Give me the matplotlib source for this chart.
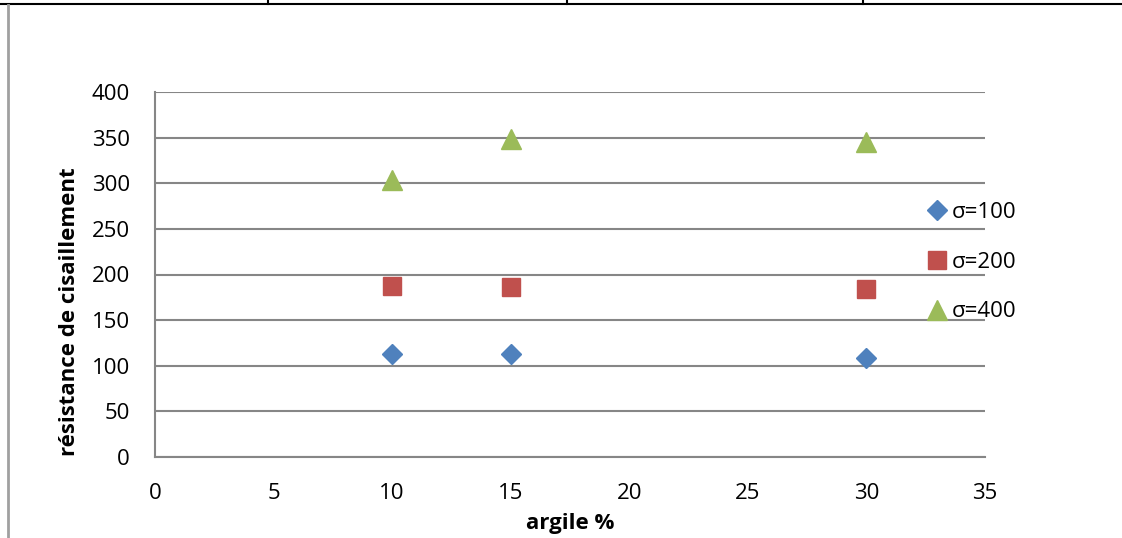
import numpy as np
import matplotlib
matplotlib.use("Agg")
import matplotlib.pyplot as plt
from matplotlib.lines import Line2D

plt.rcParams['font.family'] = ['Open Sans', 'DejaVu Sans']

# data
argile = [10, 15, 30]
sig100 = [113, 113, 108]
sig200 = [187, 186, 184]
sig400 = [304, 348, 345]
labels = ['σ=100', 'σ=200', 'σ=400']
xticks = [0, 5, 10, 15, 20, 25, 30, 35]
yticks = [0, 50, 100, 150, 200, 250, 300, 350, 400]

W, H = 1122, 538
fig = plt.figure(figsize=(W / 100, H / 100), dpi=100)
ax = fig.add_axes([155 / W, 1 - 457 / H, (985 - 155) / W, (457 - 92) / H])

grey = '#868686'
ax.plot(argile, sig100, 'D', color='#4F81BD', ms=10.5, mec='#4F81BD', label=labels[0])
ax.plot(argile, sig200, 's', color='#C0504D', ms=12.5, mec='#C0504D', label=labels[1])
ax.plot(argile, sig400, '^', color='#9BBB59', ms=14.5, mec='#9BBB59', label=labels[2])

ax.set_xlim(0, 35)
ax.set_ylim(0, 400)
ax.set_xticks(xticks)
ax.set_yticks(yticks)
ax.tick_params(length=0, labelsize=16, pad=0)
ax.tick_params(axis='x', pad=19)
ax.tick_params(axis='y', pad=18)
ax.yaxis.grid(True, color=grey, lw=1.5)
ax.set_axisbelow(True)
for s in ['top', 'right']:
    ax.spines[s].set_visible(False)
for s in ['left', 'bottom']:
    ax.spines[s].set_color(grey)
    ax.spines[s].set_linewidth(1.5)

fig.text(570 / W, 1 - 523 / H, 'argile %', fontsize=16, fontweight='bold',
         ha='center', va='center')
fig.text(70 / W, 1 - 312 / H, 'résistance de cisaillement', fontsize=16,
         fontweight='bold', rotation=90, ha='center', va='center')

ax.legend(loc='center left', bbox_to_anchor=(915 / W, 1 - 262 / H),
          bbox_transform=fig.transFigure, frameon=False, fontsize=16,
          handlelength=1.0, handletextpad=0.15, labelspacing=1.3,
          borderpad=0, numpoints=1)

# table frame lines around the chart
fig.add_artist(Line2D([0, 1], [1 - 4 / H, 1 - 4 / H], color='black', lw=1.5))
fig.add_artist(Line2D([8 / W, 8 / W], [0, 1 - 5 / H], color='#a0a0a0', lw=2))
for xp in [268, 567, 863]:
    fig.add_artist(Line2D([xp / W, xp / W], [1 - 4 / H, 1], color='black', lw=1.5))

fig.savefig('out.png', dpi=100)
